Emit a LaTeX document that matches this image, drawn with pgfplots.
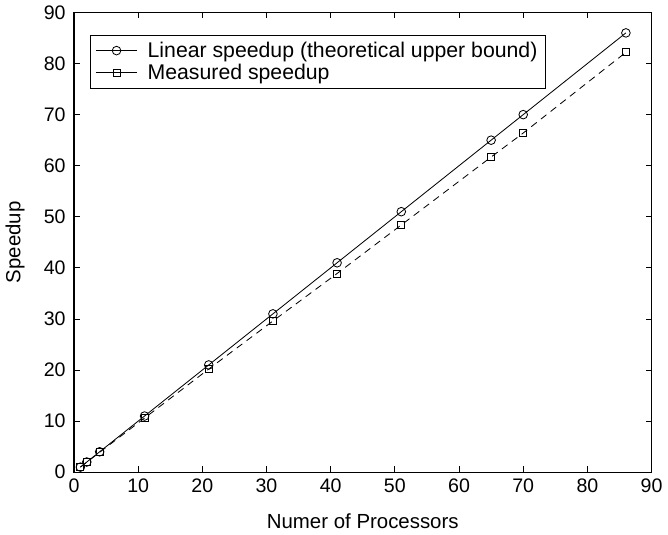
\documentclass[border=0pt]{standalone}
\usepackage{pgfplots}
\pgfplotsset{compat=1.18}
\usepackage{fontspec}
\setmainfont{Liberation Sans}
\begin{document}
\begin{tikzpicture}
\begin{axis}[
  scale only axis,
  width=348pt, height=277pt,
  xmin=0, xmax=90, ymin=0, ymax=90,
  xtick={0,10,...,90}, ytick={0,10,...,90},
  tick align=inside,
  major tick length=3.6pt,
  axis line style={line width=0.7pt},
  tick style={line width=0.5pt, black},
  /pgf/number format/assume math mode=true,
  ticklabel style={font=\fontsize{11.8}{13}\selectfont},
  yticklabel style={xshift=-1.5pt},
  xticklabel style={yshift=-0.5pt},
  label style={font=\fontsize{12.3}{14}\selectfont},
  xlabel={Numer of Processors},
  ylabel={Speedup},
  xlabel style={at={(axis description cs:0.5,-0.107)}, anchor=center},
  ylabel style={at={(axis description cs:-0.102,0.5)}, anchor=center},
  legend style={at={(0.0276,0.952)}, anchor=north west, draw=black, line width=0.6pt,
    font=\fontsize{12.8}{15}\selectfont, inner xsep=3pt, inner ysep=2pt, row sep=-1.5pt, column sep=4pt},
  legend cell align=left,
  legend image code/.code={
    \draw[#1] (0pt,0pt) -- (25pt,0pt);
    \draw[#1, solid, mark repeat=2, mark phase=2] plot coordinates {(0pt,0pt) (12.5pt,0pt) (25pt,0pt)};
  },
]
\addplot[black, line width=0.5pt, mark=o, mark size=2.6pt, mark options={solid}]
  coordinates {(1,1) (2,2) (4,4) (11,11) (21,21) (31,31) (41,41) (51,51) (65,65) (70,70) (86,86)};
\addlegendentry{Linear speedup (theoretical upper bound)}
\addplot[black, line width=0.5pt, dash pattern=on 4.2pt off 3.2pt, mark=square, mark size=2.1pt, mark options={solid}]
  coordinates {(1,1) (2,1.95) (4,3.9) (11,10.6) (21,20.2) (31,29.6) (41,38.9) (51,48.4) (65,61.7) (70,66.4) (86,82.2)};
\addlegendentry{Measured speedup}
\end{axis}
\end{tikzpicture}
\end{document}
